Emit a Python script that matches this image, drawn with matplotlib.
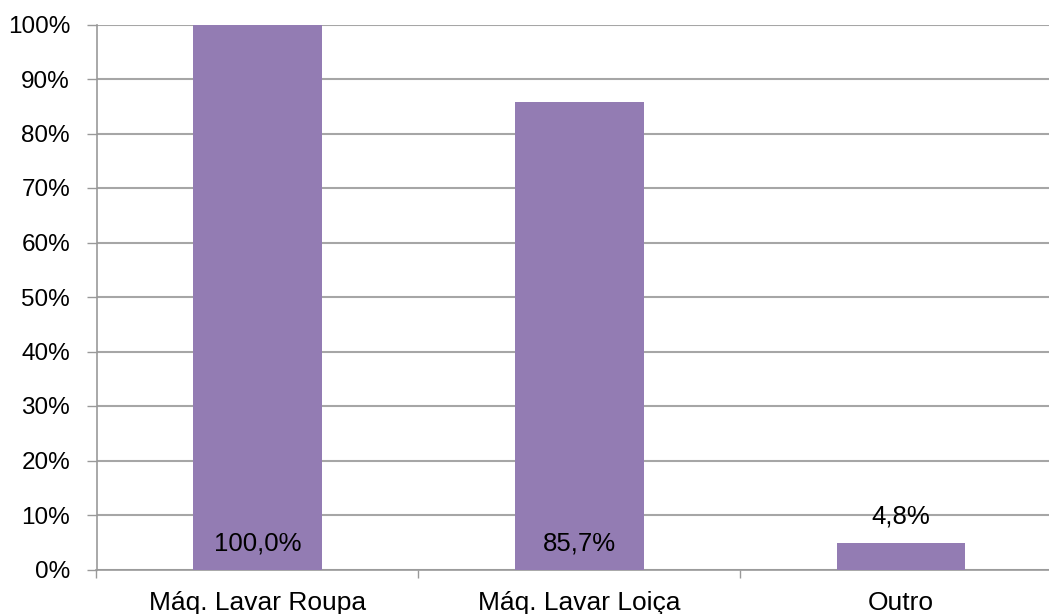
import matplotlib
matplotlib.use("Agg")
import matplotlib.pyplot as plt
from matplotlib.ticker import FuncFormatter

categories = ["Máq. Lavar Roupa", "Máq. Lavar Loiça", "Outro"]
values = [100.0, 85.7, 4.8]
labels = ["100,0%", "85,7%", "4,8%"]

plt.rcParams['font.family'] = ['Liberation Sans', 'DejaVu Sans']

fig = plt.figure(figsize=(10.49, 6.14), dpi=100)
# plot area is clipped on the right in the original
left = 96.5 / 1049
right = 1062 / 1049
bottom = 1 - 569.5 / 614
top = 1 - 24.5 / 614
ax = fig.add_axes([left, bottom, right - left, top - bottom])

x = range(len(categories))
ax.bar(x, values, width=0.40, color="#937cb3", zorder=3)

ax.set_xlim(-0.5, len(categories) - 0.5)
ax.set_ylim(0, 100)
ax.set_yticks(range(0, 101, 10))
ax.yaxis.set_major_formatter(FuncFormatter(lambda v, p: f"{int(v)}%"))
ax.grid(axis="y", color="#a6a6a6", linewidth=1.5, zorder=0)
ax.set_axisbelow(True)

ax.set_xticks(list(x))
ax.set_xticklabels(categories)
ax.set_xticks([i - 0.5 for i in x] + [len(categories) - 0.5], minor=True)
ax.tick_params(axis="x", which="major", length=0, pad=15.5, labelsize=19)
ax.tick_params(axis="x", which="minor", length=6, width=1, color="#999999")
ax.tick_params(axis="y", length=7, width=1, color="#999999", pad=12, labelsize=17.5)

for s in ["top", "right"]:
    ax.spines[s].set_visible(False)
for s in ["left", "bottom"]:
    ax.spines[s].set_color("#999999")
    ax.spines[s].set_linewidth(1.2)

for i, (v, lab) in enumerate(zip(values, labels)):
    base = v if v < 10 else 0
    ax.annotate(lab, (i, base), xytext=(0, 19), textcoords="offset points",
                ha="center", va="center", fontsize=18.5, zorder=4)

fig.savefig("out.png", dpi=100)
